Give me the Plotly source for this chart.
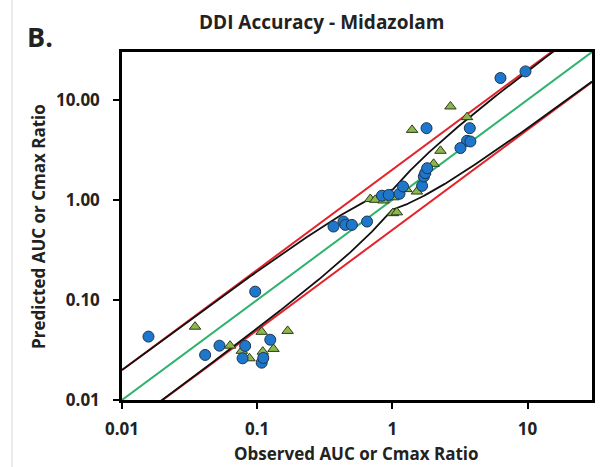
import numpy as np
import plotly.graph_objects as go

# Observed vs predicted ratios (blue circles)
obs_circle = [0.0157, 0.0412, 0.0526, 0.0815, 0.078, 0.0967, 0.108, 0.111, 0.125,
              0.367, 0.435, 0.449, 0.502, 0.65, 0.838, 0.94, 1.13, 1.2, 1.66,
              1.71, 1.75, 1.81, 1.79, 3.74, 3.57, 3.78, 3.19, 6.31, 9.66]
pred_circle = [0.043, 0.0282, 0.0349, 0.0347, 0.0261, 0.121, 0.0236, 0.0263, 0.040,
               0.541, 0.607, 0.562, 0.562, 0.607, 1.10, 1.12, 1.15, 1.36, 1.38,
               1.71, 1.85, 2.07, 5.2, 5.2, 3.89, 3.83, 3.29, 16.5, 19.2]

# Observed vs predicted ratios (green triangles)
obs_tri = [0.0347, 0.063, 0.077, 0.0877, 0.110, 0.108, 0.132, 0.168,
           0.687, 0.748, 0.86, 1.02, 1.27, 1.01, 1.08, 1.52, 1.75, 2.02,
           1.4, 2.69, 3.57, 2.27]
pred_tri = [0.054, 0.0349, 0.031, 0.0261, 0.0304, 0.048, 0.0324, 0.049,
            1.02, 1.0, 0.985, 1.06, 1.28, 0.736, 0.75, 1.21, 1.9, 2.29,
            5.0, 8.57, 6.7, 3.09]

x_tickvals = [0.01, 0.1, 1, 10]
x_ticktext = ["0.01", "0.1", "1", "10"]
y_tickvals = [0.01, 0.1, 1, 10]
y_ticktext = ["0.01", "0.10", "1.00", "10.00"]

AX_MIN, AX_MAX = 0.01, 30
FOLD = 2.0        # 2-fold limits
DELTA = 1.25      # Guest et al. limit parameter

FONT = "Open Sans"
TXT = "#222222"

# reference lines
ref_x = np.array([AX_MIN, AX_MAX])
# Guest limit curves
gx = np.logspace(np.log10(AX_MIN), np.log10(AX_MAX), 400)
R = np.where(gx >= 1, gx, 1 / gx)
limit = (DELTA + 2 * (R - 1)) / R
g_upper = gx * limit
g_lower = gx / limit

fig = go.Figure()
red = "#e3242b"
fig.add_trace(go.Scatter(x=ref_x, y=ref_x * FOLD, mode="lines",
                         line=dict(color=red, width=2), hoverinfo="skip"))
fig.add_trace(go.Scatter(x=ref_x, y=ref_x / FOLD, mode="lines",
                         line=dict(color=red, width=2), hoverinfo="skip"))
fig.add_trace(go.Scatter(x=ref_x, y=ref_x, mode="lines",
                         line=dict(color="#2db36b", width=2), hoverinfo="skip"))
fig.add_trace(go.Scatter(x=gx, y=g_upper, mode="lines",
                         line=dict(color="#111111", width=1.8), hoverinfo="skip"))
fig.add_trace(go.Scatter(x=gx, y=g_lower, mode="lines",
                         line=dict(color="#111111", width=1.8), hoverinfo="skip"))
fig.add_trace(go.Scatter(x=obs_tri, y=pred_tri, mode="markers",
                         marker=dict(symbol="triangle-up", size=10, color="#8cb84a",
                                     line=dict(color="#2b3a1a", width=1))))
fig.add_trace(go.Scatter(x=obs_circle, y=pred_circle, mode="markers",
                         marker=dict(symbol="circle", size=11, color="#1f77cc",
                                     line=dict(color="#1b3550", width=1))))

axis_common = dict(type="log", showgrid=False, zeroline=False, showline=True,
                   mirror=True, linecolor="black", linewidth=2.5,
                   ticks="outside", ticklen=6, tickwidth=2, tickcolor="black",
                   tickfont=dict(family=FONT, size=17, color=TXT, weight="bold"))

fig.update_layout(
    width=611, height=467,
    margin=dict(l=122, r=19, t=52, b=67),
    paper_bgcolor="white", plot_bgcolor="white",
    showlegend=False,
    xaxis=dict(range=[np.log10(AX_MIN), np.log10(AX_MAX)],
               tickvals=x_tickvals, ticktext=x_ticktext, ticklabelstandoff=6,
               **axis_common),
    yaxis=dict(range=[np.log10(AX_MIN), np.log10(AX_MAX)],
               tickvals=y_tickvals, ticktext=y_ticktext, ticklabelstandoff=10,
               **axis_common),
)

pw, ph = 611 - 122 - 19, 467 - 52 - 67


def px_x(px):
    return (px - 122) / pw


def px_y(py):
    return (467 - 67 - py) / ph


def label(text, x, y, size, angle=0):
    fig.add_annotation(text=text, xref="paper", yref="paper",
                       x=px_x(x), y=px_y(y), xanchor="center", yanchor="middle",
                       showarrow=False, textangle=angle,
                       font=dict(family=FONT, size=size, color=TXT, weight="bold"))


label("DDI Accuracy - Midazolam", 321, 22, 19)
label("B.", 40, 36, 27)
label("Observed AUC or Cmax Ratio", 356, 453, 17)
label("Predicted AUC or Cmax Ratio", 38, 227, 17, angle=-90)

fig.add_shape(type="line", xref="paper", yref="paper",
              x0=px_x(12), x1=px_x(12), y0=px_y(467), y1=px_y(0),
              line=dict(color="#e4e4e4", width=1.5))

fig.write_html("out.html")
